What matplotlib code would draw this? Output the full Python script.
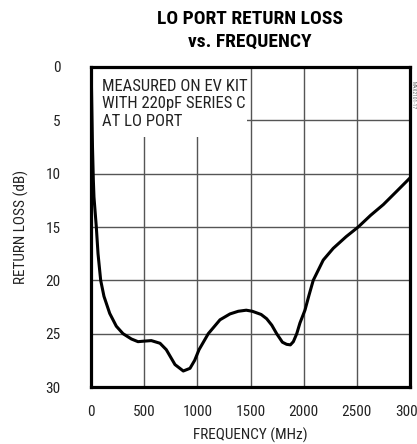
import matplotlib
matplotlib.use("Agg")
import matplotlib.pyplot as plt
from matplotlib.patches import Rectangle

plt.rcParams['font.family'] = ['Nimbus Sans Narrow', 'Liberation Sans Narrow', 'Arial Narrow',
                               'Roboto Condensed', 'Archivo Narrow', 'DejaVu Sans']

freq_mhz = [3, 8, 14, 22, 28, 50, 66, 91, 122, 176, 238, 301, 380, 442, 500, 567,
            649, 708, 790, 868, 931, 975, 1016, 1103, 1213, 1307, 1385, 1460, 1517,
            1600, 1652, 1700, 1746, 1800, 1840, 1875, 1903, 1935, 1965, 2012, 2050,
            2090, 2184, 2278, 2400, 2513, 2630, 2749, 2870, 3000]
return_loss_db = [1.0, 4.0, 7.5, 10.6, 12.2, 15.0, 17.5, 20.0, 21.5, 23.1, 24.3, 25.0,
                  25.5, 25.75, 25.7, 25.65, 25.9, 26.5, 27.9, 28.5, 28.25, 27.5, 26.5,
                  25.0, 23.7, 23.15, 22.9, 22.8, 22.9, 23.2, 23.6, 24.2, 25.0, 25.8,
                  26.0, 26.05, 25.75, 25.0, 24.0, 22.8, 21.4, 20.0, 18.1, 17.0, 15.9,
                  15.0, 13.9, 12.9, 11.7, 10.4]

x_ticks = [0, 500, 1000, 1500, 2000, 2500, 3000]
y_ticks = [0, 5, 10, 15, 20, 25, 30]

W, H = 417, 444
fig = plt.figure(figsize=(W / 100, H / 100), dpi=100)
ax = fig.add_axes([91 / W, 1 - 387 / H, (410 - 91) / W, (387 - 67) / H])

ax.set_xlim(0, 3000)
ax.set_ylim(30, 0)
ax.set_xticks(x_ticks)
ax.set_yticks(y_ticks)
ax.tick_params(length=0, labelsize=11, colors='#222222')
ax.tick_params(axis='x', pad=13)
ax.tick_params(axis='y', pad=22)

ax.grid(True, color='#555555', linewidth=1.0)
ax.set_axisbelow(True)
for s in ax.spines.values():
    s.set_linewidth(2.3)
    s.set_color('black')

# white box behind annotation
ax.add_patch(Rectangle((0, 0), 1470, 6.6, facecolor='white', edgecolor='none', zorder=2))

ax.plot(freq_mhz, return_loss_db, color='black', linewidth=2.2, zorder=3)

ax.text(100, 1.1, "MEASURED ON EV KIT\nWITH 220pF SERIES C\nAT LO PORT",
        fontsize=12, va='top', ha='left', linespacing=1.2, color='#222222', zorder=4)

ax.set_xlabel("FREQUENCY (MHz)", fontsize=11, color='#222222', labelpad=6)
ax.set_ylabel("RETURN LOSS (dB)", fontsize=11, color='#222222', labelpad=12)

fig.text(250 / W, 1 - 30 / H, "LO PORT RETURN LOSS\nvs. FREQUENCY", ha='center', va='center',
         fontsize=14, fontweight='bold', linespacing=1.35)

fig.text(413.5 / W, 1 - 95 / H, "MAX2101-17", rotation=-90, fontsize=4, ha='center',
         va='center', color='#666666')

fig.savefig("out.png", dpi=100)
